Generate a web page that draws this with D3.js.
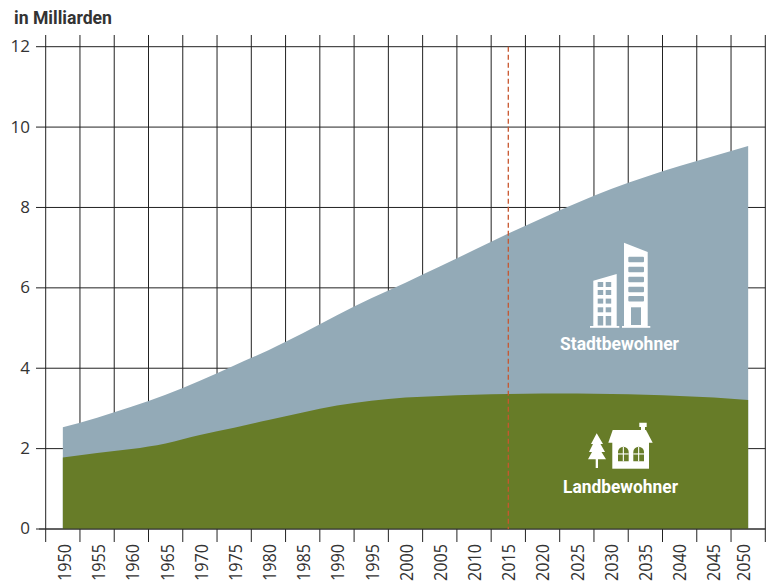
<!DOCTYPE html>
<html>
<head>
    <meta charset=utf-8>
    <title>Stadt- und Landbewohner</title>
    <script src="https://cdn.jsdelivr.net/npm/d3@7"></script>
    <style>
        html, body { margin: 0; padding: 0; background: #fff; overflow: hidden; }
        svg { display: block; }
        text { font-family: "Open Sans", sans-serif; fill: #333; }
        .label { font-family: Roboto, sans-serif; font-weight: 700; }
    </style>
</head>
<body>
<svg id=chart width=766 height=581></svg>
<script>
    var years = ['1950', '1955', '1960', '1965', '1970', '1975', '1980', '1985', '1990', '1995', '2000',
        '2005', '2010', '2015', '2020', '2025', '2030', '2035', '2040', '2045', '2050'];
    //rural population, bn
    var land = [1.78, 1.89, 1.99, 2.13, 2.34, 2.52, 2.71, 2.90, 3.07, 3.19, 3.27,
        3.31, 3.34, 3.36, 3.37, 3.37, 3.36, 3.34, 3.31, 3.27, 3.21];
    //total population, bn
    var gesamt = [2.53, 2.77, 3.04, 3.34, 3.69, 4.07, 4.45, 4.87, 5.32, 5.74, 6.13,
        6.53, 6.94, 7.35, 7.74, 8.11, 8.46, 8.76, 9.03, 9.28, 9.53];
    var yTicks = [0, 2, 4, 6, 8, 10, 12];
    var markYear = '2015';

    var svg = d3.select('#chart');

    //scales
    var x = d3.scaleBand().domain(years).range([45.7, 765.3]);
    var y = d3.scaleLinear().domain([0, 12]).range([529, 46.7]);
    var cx = function (yr) { return x(yr) + x.bandwidth() / 2; };

    //vertical gridlines on the band edges
    var edges = years.map(function (d) { return x(d); }).concat([x.range()[1]]);
    svg.append('g').selectAll('line')
        .data(edges)
        .enter().append('line')
        .attr('x1', d => d).attr('x2', d => d)
        .attr('y1', 35).attr('y2', 542)
        .attr('stroke', '#222').attr('stroke-width', 1);

    //horizontal gridlines and y labels
    var axisY = svg.append('g')
        .attr('transform', 'translate(36,0)')
        .call(d3.axisLeft(y).tickValues(yTicks).tickSize(0).tickPadding(6).offset(0));
    axisY.select('.domain').remove();
    axisY.selectAll('text').attr('font-size', 17).style('font-family', '"Open Sans", sans-serif').attr('fill', '#333');
    axisY.selectAll('.tick').append('line')
        .attr('x1', 0).attr('x2', 729.3)
        .attr('stroke', '#222').attr('stroke-width', 1);

    //areas
    var areaTotal = d3.area()
        .x((d, i) => cx(years[i]))
        .y0(y(0))
        .y1(d => y(d))
        .curve(d3.curveMonotoneX);
    svg.append('path').datum(gesamt).attr('fill', '#93aab7').attr('d', areaTotal);
    svg.append('path').datum(land).attr('fill', '#677c28').attr('d', areaTotal);

    //baseline
    svg.append('line')
        .attr('x1', 39).attr('x2', 765.3)
        .attr('y1', y(0)).attr('y2', y(0))
        .attr('stroke', '#333').attr('stroke-width', 1);

    //dashed marker
    svg.append('line')
        .attr('x1', cx(markYear)).attr('x2', cx(markYear))
        .attr('y1', y(12)).attr('y2', y(0))
        .attr('stroke', '#c8572f').attr('stroke-width', 1.3)
        .attr('stroke-dasharray', '5,3');

    //x labels, the source drifts a little from the band centres
    var labelShift = d3.scaleLinear().domain([1950, 2045]).range([2, 0]);
    var axisX = svg.append('g')
        .attr('transform', 'translate(0,' + y(0) + ')')
        .call(d3.axisBottom(x).tickSize(0).offset(0));
    axisX.select('.domain').remove();
    axisX.selectAll('text')
        .attr('font-size', 18)
        .attr('textLength', 37)
        .attr('lengthAdjust', 'spacingAndGlyphs')
        .style('font-family', '"Open Sans", sans-serif')
        .attr('fill', '#333')
        .attr('text-anchor', 'end')
        .attr('transform', 'rotate(-90)')
        .attr('x', -15)
        .attr('y', d => d === '2050' ? -4 : labelShift(+d))
        .attr('dy', '.35em');

    //title
    svg.append('text').attr('class', 'label')
        .attr('x', 14).attr('y', 24)
        .attr('font-size', 18)
        .attr('textLength', 98)
        .attr('lengthAdjust', 'spacingAndGlyphs')
        .text('in Milliarden');

    //city icon
    var city = svg.append('g').attr('fill', '#fff');
    city.append('polygon').attr('points', '593.3,280.7 616.7,274 616.7,327 593.3,327');
    city.append('polygon').attr('points', '624,242.7 647.7,252 647.7,327 624,327');
    city.append('rect').attr('x', 590).attr('y', 326).attr('width', 29.3).attr('height', 1.8);
    city.append('rect').attr('x', 622).attr('y', 326).attr('width', 28.3).attr('height', 1.8);
    [282, 290, 298.6, 307.3].forEach(function (wy) {
        [597.7, 605.7].forEach(function (wx) {
            city.append('rect').attr('x', wx).attr('y', wy).attr('width', 5.5).attr('height', 5).attr('fill', '#93aab7');
        });
    });
    [597.7, 605.7].forEach(function (wx) {
        city.append('rect').attr('x', wx).attr('y', 316).attr('width', 5.5).attr('height', 9.5).attr('fill', '#93aab7');
    });
    [256.7, 266.7, 276.7, 286.7, 296].forEach(function (wy) {
        city.append('rect').attr('x', 628.3).attr('y', wy).attr('width', 15.7).attr('height', 5.5).attr('rx', 1).attr('fill', '#93aab7');
    });
    city.append('rect').attr('x', 631).attr('y', 307.3).attr('width', 10).attr('height', 17.7).attr('fill', '#93aab7');
    svg.append('text').attr('class', 'label')
        .attr('x', 560).attr('y', 350)
        .attr('font-size', 18)
        .attr('textLength', 119)
        .attr('lengthAdjust', 'spacingAndGlyphs')
        .style('fill', '#fff')
        .text('Stadtbewohner');

    //house and tree icon
    var house = svg.append('g').attr('fill', '#fff');
    house.append('polygon').attr('points', '612.7,430 646,430 652.7,442.7 608.3,442.7');
    house.append('polygon').attr('points', '639.3,422.7 646.7,422.7 646.7,427 645,427 645,431 641,431 641,427 639.3,427');
    house.append('rect').attr('x', 612.3).attr('y', 442).attr('width', 36.7).attr('height', 26.7);
    [618, 633.3].forEach(function (wx) {
        house.append('path')
            .attr('d', 'M' + wx + ',461.3 V452 a5.3,5.3 0 0 1 10.7,0 V461.3 Z')
            .attr('fill', '#677c28');
        house.append('rect').attr('x', wx + 4.8).attr('y', 447).attr('width', 1.1).attr('height', 14.3);
        house.append('rect').attr('x', wx).attr('y', 453.4).attr('width', 10.7).attr('height', 1.1);
    });
    house.append('polygon').attr('points', '596.7,433.3 603,444 600.5,444 605,452 601.5,452 606,459.3 598,459.3 598,468 595.7,468 595.7,459.3 588,459.3 592,452 589,452 593,444 591,444');
    svg.append('text').attr('class', 'label')
        .attr('x', 563).attr('y', 492.5)
        .attr('font-size', 18)
        .attr('textLength', 115)
        .attr('lengthAdjust', 'spacingAndGlyphs')
        .style('fill', '#fff')
        .text('Landbewohner');
</script>
</body>
</html>
